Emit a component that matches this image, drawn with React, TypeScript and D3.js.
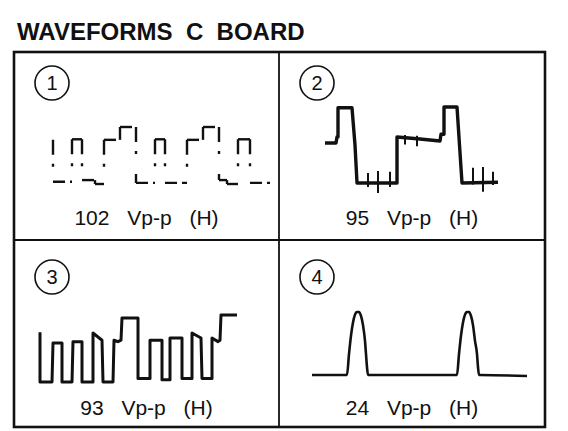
import React from "react";
import * as d3 from "d3";

const W = 568;
const H = 431;

const TITLE = "WAVEFORMS  C  BOARD";
const PANEL_IDS = ["1", "2", "3", "4"];
const PANEL_VPP = [102, 95, 93, 24];

// waveform 1: broken square wave (time units, volts)
const WAVE1_T = [0, 0, 19, 19, 29, 29, 42, 42, 51, 51, 67, 67, 83, 83, 102, 102, 112, 112, 134, 134, 150, 150, 166, 166, 174, 174, 185, 185, 197, 197, 217];
const WAVE1_V = [79, 4, 4, 80, 80, 7, 7, 0, 0, 79, 79, 102, 102, 2, 2, 80, 80, 2, 2, 79, 79, 102, 102, 7, 7, 0, 0, 80, 80, 2, 2];

// waveform 2: stepped sync wave
const WAVE2_T = [0, 11, 12, 13, 13, 27, 30, 32, 72, 72, 95, 115, 116, 119, 119, 132, 137, 173];
const WAVE2_V = [50, 50, 57.5, 57.5, 94, 94, 47.5, 0, 0, 57.5, 55, 52.5, 61, 61, 95, 95, 0, 1];
const SPIKE2_T = [43, 53, 65, 80, 92, 148, 158, 168];
const SPIKE2_UP = [12.5, 15, 14, 60, 59, 19, 20, 14];
const SPIKE2_DOWN = [-5, -12.5, -5, 48, 46, -2, -11, -2.5];

// waveform 3: pulse train
const WAVE3_T = [0, 0, 12, 13, 22, 22, 32, 33, 42, 42, 53, 53, 62, 63, 73, 74, 78, 81, 82, 98, 98, 110, 110, 122, 122, 130, 130, 142, 142, 152, 152, 161, 162, 172, 172, 178, 180, 181, 197];
const WAVE3_V = [69, 0, 0, 54, 54, 0, 0, 56, 56, 0, 0, 68, 58, 0, 0, 58, 56, 58, 89, 89, 5, 5, 58, 58, 3, 3, 61, 61, 5, 5, 68, 61, 5, 5, 61, 56, 58, 93, 93];

// waveform 4: two pulses
const WAVE4_T = [0, 35, 37, 39, 41, 43, 45, 47, 49, 51, 53, 54, 55, 56, 145, 147, 149, 151, 153, 155, 157, 159, 161, 163, 165, 166, 167, 168, 215];
const WAVE4_V = [0, 0, 8, 15, 20, 23, 24, 24, 22.5, 19, 13, 8, 3, 0, 0, 8, 15, 20, 23, 24, 24, 22.5, 19, 13, 8, 3, 0, 0, -0.4];

const BOX = { x0: 14, y0: 52, x1: 545, y1: 427, mx: 279, my: 240 };

// trace area inside each panel (relative to panel top-left)
const TRACE = [
  { x0: 39, x1: 256, yLow: 132, yTop: 75, tMax: 217, width: 2.4 },
  { x0: 46, x1: 219, yLow: 131, yTop: 55, tMax: 173, width: 3.4 },
  { x0: 26, x1: 223, yLow: 142, yTop: 75, tMax: 197, width: 3 },
  { x0: 33, x1: 248, yLow: 135, yTop: 72, tMax: 215, width: 2.6 },
];

const ink = "#111";
const font = "'Liberation Sans', Arial, Helvetica, sans-serif";

function zip(t: number[], v: number[]) {
  return t.map((d, i) => [d, v[i]] as [number, number]);
}

function Trace({ idx }: { idx: number }) {
  const cfg = TRACE[idx];
  const x = d3.scaleLinear().domain([0, cfg.tMax]).range([cfg.x0, cfg.x1]);
  const y = d3.scaleLinear().domain([0, PANEL_VPP[idx]]).range([cfg.yLow, cfg.yTop]);
  const line = d3.line<[number, number]>().x(d => x(d[0])).y(d => y(d[1]));

  if (idx === 0) {
    const pts = zip(WAVE1_T, WAVE1_V);
    return (
      <g>
        {pts.slice(1).map((p, i) => {
          const q = pts[i];
          const vertical = q[0] === p[0];
          // verticals drawn top-down so the faded part is at the bottom
          const [a, b] = vertical && q[1] < p[1] ? [p, q] : [q, p];
          return (
            <line key={i} x1={x(a[0])} y1={y(a[1])} x2={x(b[0])} y2={y(b[1])}
              stroke={ink} strokeWidth={cfg.width}
              strokeDasharray={vertical ? "15 9 3 20" : "12 5"} />
          );
        })}
      </g>
    );
  }
  if (idx === 1) {
    const pts = zip(WAVE2_T, WAVE2_V);
    return (
      <g>
        <path d={line(pts) || ""} fill="none" stroke={ink} strokeWidth={cfg.width} strokeLinejoin="round" />
        {SPIKE2_T.map((t, i) => (
          <line key={i} x1={x(t)} x2={x(t)} y1={y(SPIKE2_UP[i])} y2={y(SPIKE2_DOWN[i])} stroke={ink} strokeWidth={2} />
        ))}
      </g>
    );
  }
  if (idx === 2) {
    return <path d={line(zip(WAVE3_T, WAVE3_V)) || ""} fill="none" stroke={ink} strokeWidth={cfg.width} strokeLinejoin="round" />;
  }
  const smooth = line.curve(d3.curveMonotoneX);
  return <path d={smooth(zip(WAVE4_T, WAVE4_V)) || ""} fill="none" stroke={ink} strokeWidth={cfg.width} />;
}

function Panel({ idx, ox, oy, pw }: { idx: number; ox: number; oy: number; pw: number }) {
  const top = idx < 2;
  return (
    <g transform={`translate(${ox},${oy})`}>
      <circle cx={38} cy={top ? 31 : 37} r={17} fill="none" stroke={ink} strokeWidth={1.6} />
      <text x={38} y={top ? 38 : 44} textAnchor="middle" fontFamily={font} fontSize={20} fill={ink}>{PANEL_IDS[idx]}</text>
      <Trace idx={idx} />
      <text x={pw / 2} y={top ? 173 : 175} textAnchor="middle" fontFamily={font} fontSize={21}
        fill={ink} style={{ wordSpacing: "12px" }}>{`${PANEL_VPP[idx]} Vp-p (H)`}</text>
    </g>
  );
}

export default function App() {
  const pw = [BOX.mx - BOX.x0, BOX.x1 - BOX.mx];
  return (
    <svg width={W} height={H} style={{ position: "absolute", left: 0, top: 0, background: "#fff" }}>
      <text x={17} y={40} fontFamily={font} fontWeight="bold" fontSize={24} fill={ink} style={{ whiteSpace: "pre" }}>{TITLE}</text>
      <rect x={BOX.x0} y={BOX.y0} width={BOX.x1 - BOX.x0} height={BOX.y1 - BOX.y0} fill="none" stroke={ink} strokeWidth={2.6} />
      <line x1={BOX.mx} x2={BOX.mx} y1={BOX.y0} y2={BOX.y1} stroke={ink} strokeWidth={1.8} />
      <line x1={BOX.x0} x2={BOX.x1} y1={BOX.my} y2={BOX.my} stroke={ink} strokeWidth={2} />
      {PANEL_IDS.map((_, i) => (
        <Panel key={i} idx={i}
          ox={i % 2 === 0 ? BOX.x0 : BOX.mx}
          oy={i < 2 ? BOX.y0 : BOX.my}
          pw={pw[i % 2]} />
      ))}
    </svg>
  );
}
